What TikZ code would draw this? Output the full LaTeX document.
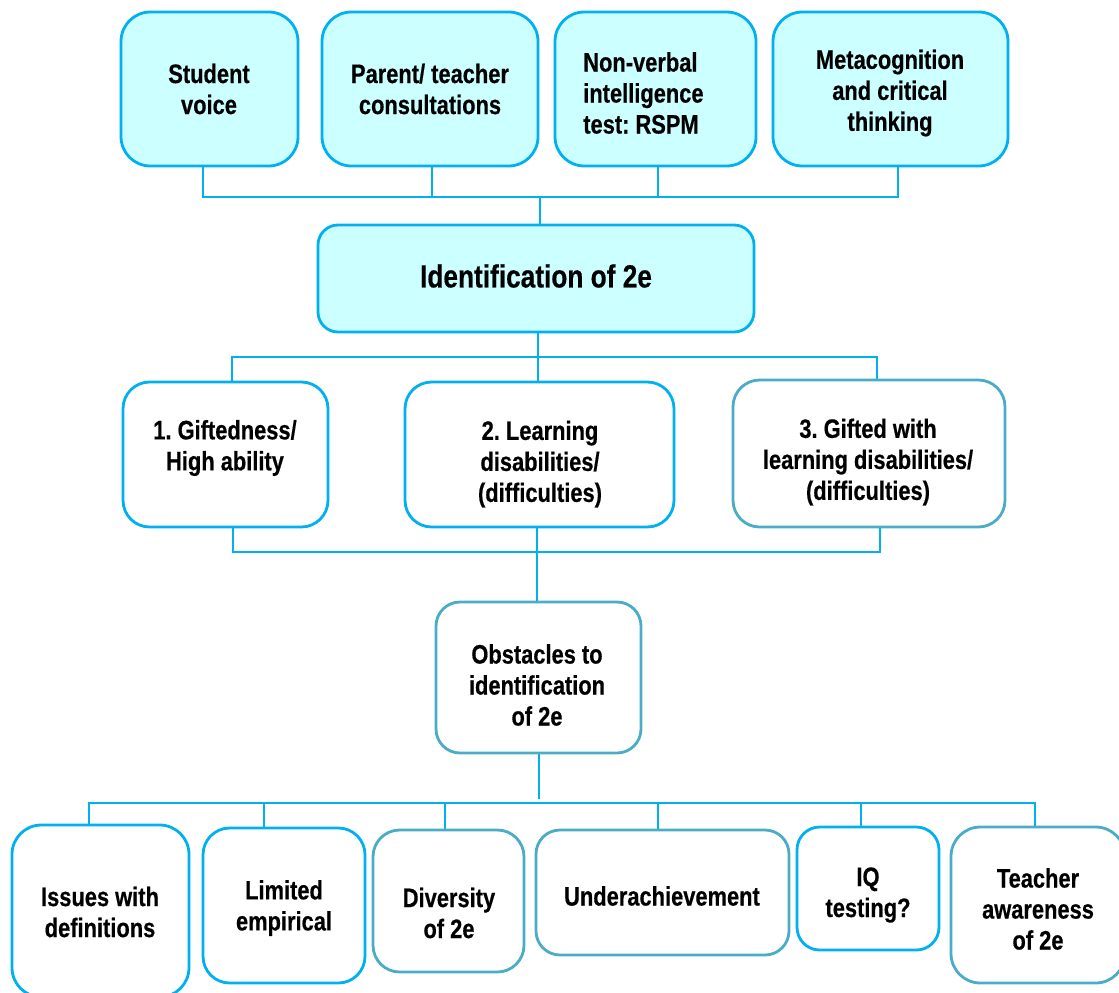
\documentclass[tikz,border=0pt]{standalone}
\usepackage{fontspec}
\setmainfont{Liberation Sans}[FakeStretch=0.82, BoldFeatures={FakeBold=0.45}]
\frenchspacing
\definecolor{lineblue}{HTML}{00B0F0}
\definecolor{boxteal}{HTML}{4BACC6}
\definecolor{cyanfill}{HTML}{CCFFFF}

% box: name, style, x1, y1, x2, y2 (pixel grid), corner radius
\newcommand\pbox[7]{%
  \node[#2, rounded corners=#7, minimum width={(#5-#3)*0.75pt},
        minimum height={(#6-#4)*0.75pt}] (#1) at ({(#3+#5)/2},{(#4+#6)/2}) {};}

\tikzset{
  boxbase/.style={draw, line width=2.1pt, inner sep=0pt, rectangle},
  cyanbox/.style={boxbase, draw=lineblue, fill=cyanfill},
  bluebox/.style={boxbase, draw=lineblue, fill=white},
  tealbox/.style={boxbase, draw=boxteal, fill=white},
  conn/.style={draw=lineblue, line width=1.9pt, line join=miter},
  txt/.style={align=center, inner sep=0pt, font=\bfseries\fontsize{20}{23.25}\selectfont},
  bigtxt/.style={align=center, inner sep=0pt, font=\bfseries\fontsize{24}{28}\selectfont},
}

\begin{document}
\begin{tikzpicture}[x=0.75pt, y=-0.75pt]
\useasboundingbox (0,0) rectangle (1119,992);
\clip (0,0) rectangle (1119,992);

% ---- sources of identification
\pbox{sv}{cyanbox}{121}{12}{298}{166}{22pt}
\pbox{pt}{cyanbox}{322}{12}{538}{166}{22pt}
\pbox{nv}{cyanbox}{555}{12}{756}{166}{22pt}
\pbox{mc}{cyanbox}{773}{12}{1008}{166}{22pt}
\node[txt] (sv-t) at (209,89) {Student\\voice};
\node[txt] (pt-t) at (430,89) {Parent/ teacher\\consultations};
\node[txt, align=left, anchor=west] (nv-t) at (583,93) {Non-verbal\\intelligence\\test: RSPM};
\node[txt] (mc-t) at (890,93) {Metacognition\\and critical\\thinking};

% ---- central box
\pbox{id}{cyanbox}{318}{225}{754}{332}{15pt}
\node[bigtxt] (id-t) at (536,276) {Identification of 2e};

% ---- three groups
\pbox{g1}{bluebox}{123}{382}{328}{527}{20pt}
\pbox{g2}{bluebox}{405}{382}{674}{527}{20pt}
\pbox{g3}{tealbox}{733}{380}{1005}{527}{20pt}
\node[txt] (g1-t) at (225,448) {1. Giftedness/\\High ability};
\node[txt] (g2-t) at (540,464) {2. Learning\\disabilities/\\(difficulties)};
\node[txt] (g3-t) at (868,462) {3. Gifted with\\learning disabilities/\\(difficulties)};

% ---- obstacles
\pbox{ob}{tealbox}{436}{602}{641}{753}{18pt}
\node[txt] (ob-t) at (537,685) {Obstacles to\\identification\\of 2e};

% ---- individual obstacles
\pbox{is}{bluebox}{12}{825}{189}{997}{22pt}
\pbox{le}{bluebox}{203}{828}{365}{983}{20pt}
\pbox{dv}{tealbox}{373}{830}{524}{972}{20pt}
\pbox{ua}{tealbox}{536}{830}{789}{955}{18pt}
\pbox{iq}{bluebox}{797}{827}{939}{950}{17pt}
\pbox{te}{tealbox}{951}{827}{1125}{983}{22pt}
\node[txt] (is-t) at (100,912) {Issues with\\definitions};
\node[txt] (le-t) at (284,908) {Limited\\empirical};
\node[txt] (dv-t) at (449,913) {Diversity\\of 2e};
\node[txt] (ua-t) at (662,896) {Underachievement};
\node[txt] (iq-t) at (868,895) {IQ\\testing?};
\node[txt] (te-t) at (1038,909) {Teacher\\awareness\\of 2e};

% ---- connector junctions
\coordinate (d1) at (203,197);
\coordinate (d2) at (432,197);
\coordinate (d3) at (658,197);
\coordinate (d4) at (898,197);
\coordinate (dj) at (540,197);
\coordinate (m1) at (232,357);
\coordinate (m2) at (538,357);
\coordinate (m3) at (877,357);
\coordinate (n1) at (233,552);
\coordinate (n2) at (537,552);
\coordinate (n3) at (880,552);
\coordinate (qo) at (539,799);
\coordinate (q1) at (89,803);
\coordinate (q2) at (264,803);
\coordinate (q3) at (445,803);
\coordinate (q4) at (658,803);
\coordinate (q5) at (861,803);
\coordinate (q6) at (1035,803);

% top bus
\draw[conn] (d1 |- sv.south) -- (d1) -- (d4) -- (d4 |- mc.south);
\draw[conn] (d2 |- pt.south) -- (d2);
\draw[conn] (d3 |- nv.south) -- (d3);
\draw[conn] (dj) -- (dj |- id.north);

% bus below the central box
\draw[conn] (m1 |- g1.north) -- (m1) -- (m3) -- (m3 |- g3.north);
\draw[conn] (m2 |- id.south) -- (m2 |- g2.north);

% bus below the groups
\draw[conn] (n1 |- g1.south) -- (n1) -- (n3) -- (n3 |- g3.south);
\draw[conn] (n2 |- g2.south) -- (n2 |- ob.north);

% bus to the individual obstacles
\draw[conn] (qo |- ob.south) -- (qo);
\draw[conn] (q1 |- is.north) -- (q1) -- (q6) -- (q6 |- te.north);
\draw[conn] (q2) -- (q2 |- le.north);
\draw[conn] (q3) -- (q3 |- dv.north);
\draw[conn] (q4) -- (q4 |- ua.north);
\draw[conn] (q5) -- (q5 |- iq.north);
\end{tikzpicture}
\end{document}
